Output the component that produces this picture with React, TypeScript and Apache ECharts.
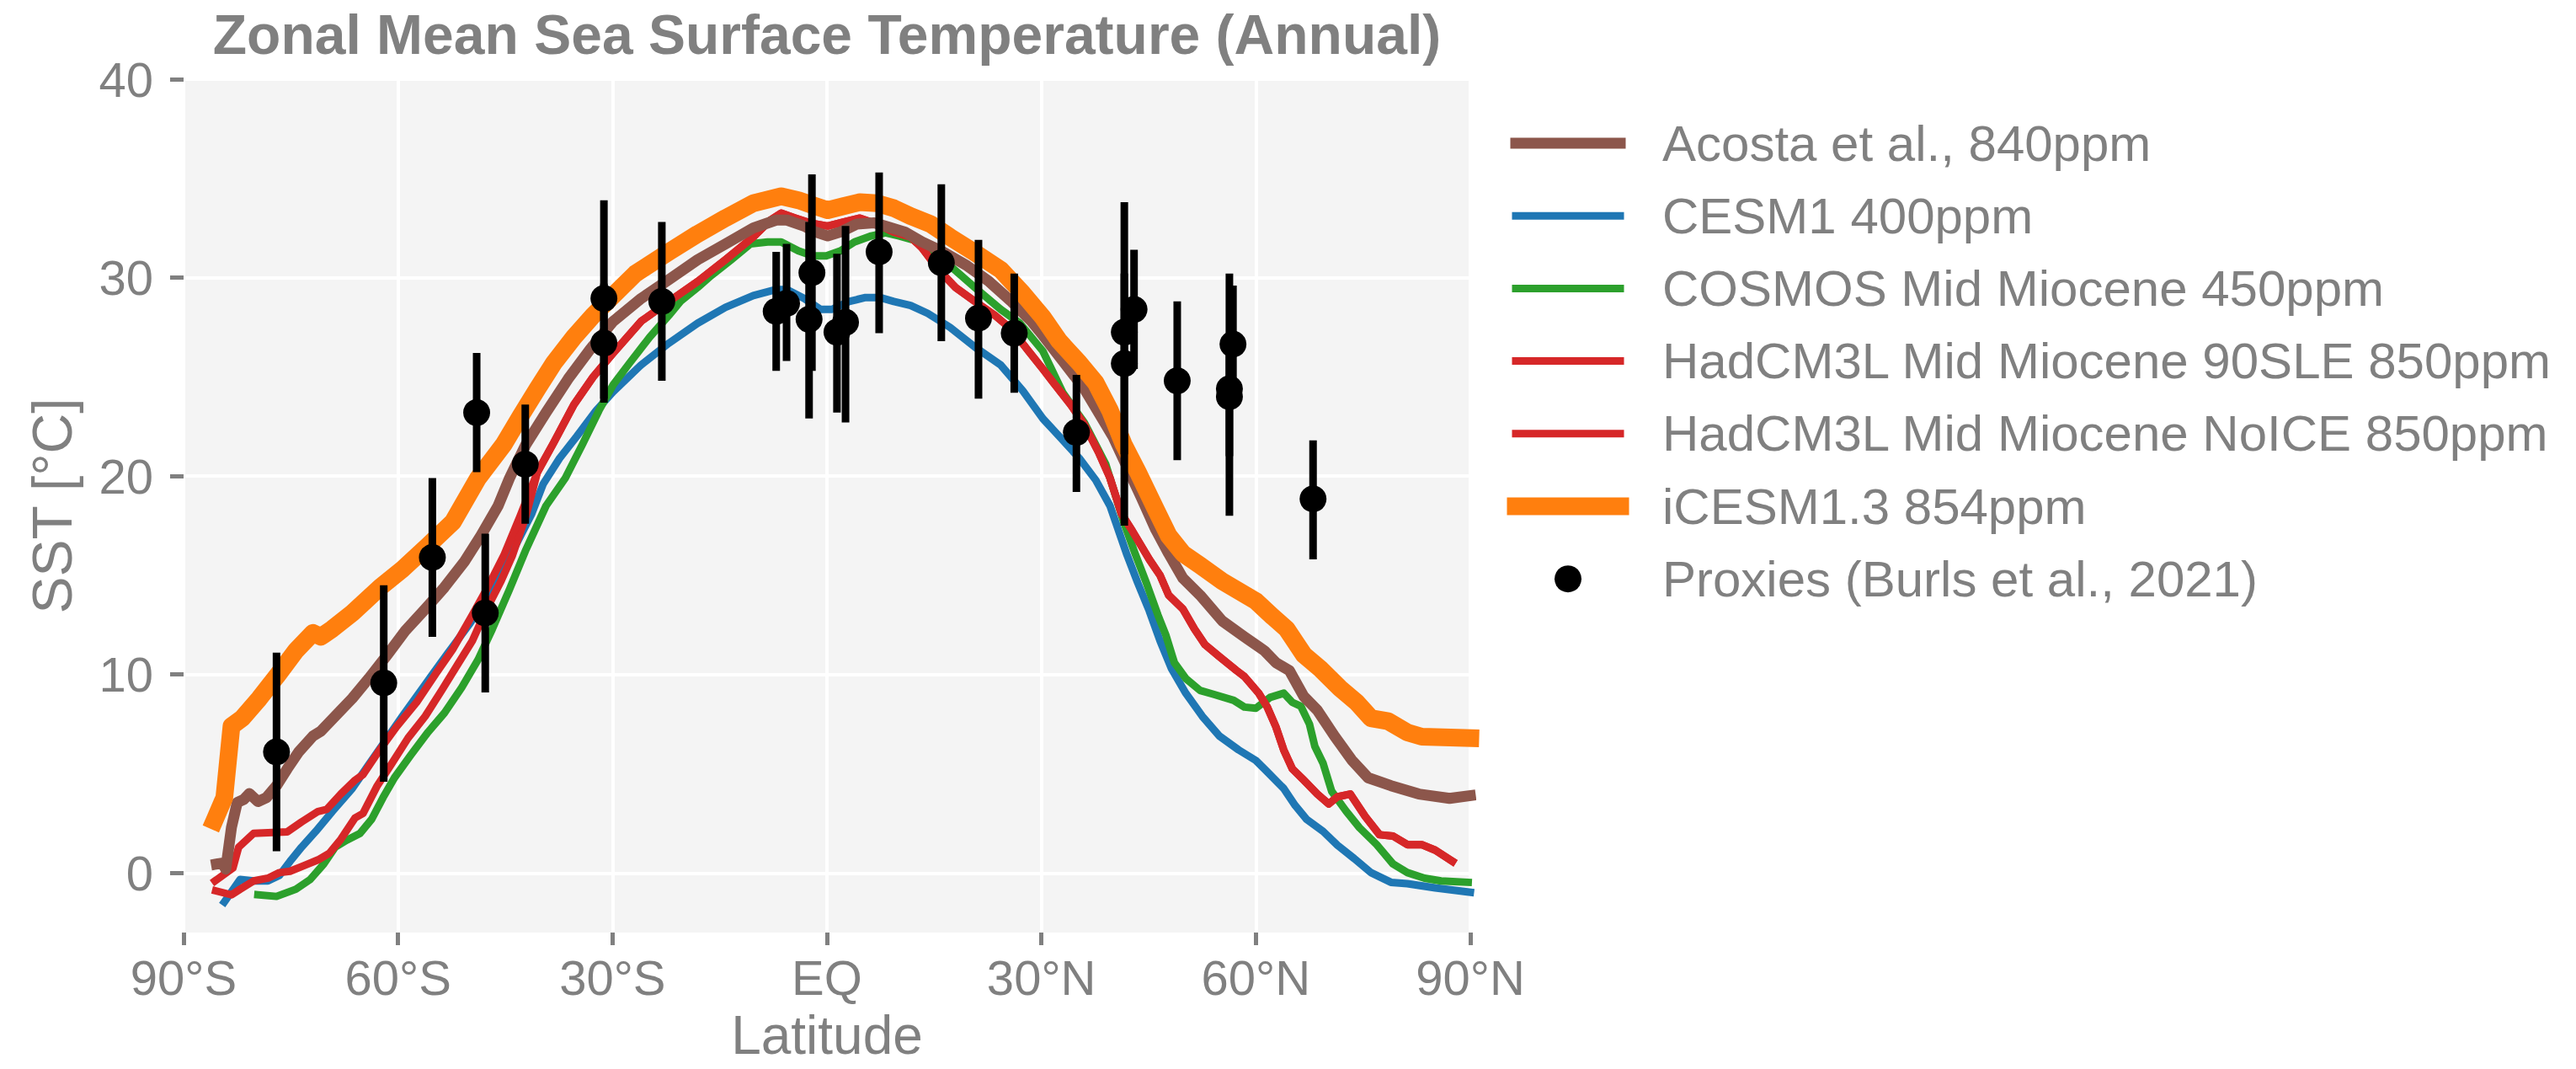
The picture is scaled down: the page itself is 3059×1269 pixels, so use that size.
import React, { useEffect, useRef } from 'react';
import * as echarts from 'echarts';

// ---------- axis ticks ----------
const xTickValues = [-90, -60, -30, 0, 30, 60, 90];
const xTickLabels = ['90°S', '60°S', '30°S', 'EQ', '30°N', '60°N', '90°N'];
const yTickValues = [0, 10, 20, 30, 40];

// ---------- series names ----------
const acostaName = 'Acosta et al., 840ppm';
const cesmName = 'CESM1 400ppm';
const cosmosName = 'COSMOS Mid Miocene 450ppm';
const hadSleName = 'HadCM3L Mid Miocene 90SLE 850ppm';
const hadNoIceName = 'HadCM3L Mid Miocene NoICE 850ppm';
const icesmName = 'iCESM1.3 854ppm';
const proxyName = 'Proxies (Burls et al., 2021)';

// ---------- Acosta et al. ----------
const acostaLat = [-85.4, -84.6, -84.1, -83.3, -82.5, -81.6, -80.8, -79.6, -78.4, -77.0, -75.5, -73.9, -71.9, -70.8, -68.8, -66.4, -64.1, -61.7, -59.0, -56.2, -53.5, -50.7, -48.4, -46.0, -44.4, -42.1, -39.3, -36.2, -33.1, -29.9, -26.0, -22.1, -18.1, -14.2, -10.3, -7.1, -5.6, -3.2, -1.6, 0.1, 1.9, 4.2, 6.6, 8.6, 10.9, 13.3, 16.0, 19.6, 22.7, 25.8, 28.6, 30.2, 33.0, 36.0, 40.0, 44.0, 46.0, 47.8, 49.8, 52.2, 55.3, 58.4, 61.2, 62.8, 64.7, 66.7, 68.6, 71.0, 73.4, 75.7, 78.9, 82.8, 87.1, 90.0];
const acostaSST = [0.45, 0.5, 0.2, 2.3, 3.55, 3.7, 4.0, 3.6, 3.8, 4.4, 5.25, 6.1, 6.9, 7.15, 7.9, 8.8, 9.8, 10.9, 12.2, 13.3, 14.4, 15.7, 17.0, 18.5, 19.9, 21.6, 23.2, 24.9, 26.4, 27.8, 28.95, 29.9, 30.9, 31.7, 32.5, 32.9, 32.9, 32.6, 32.3, 32.1, 32.3, 32.7, 32.76, 32.55, 32.3, 31.8, 31.35, 30.6, 29.8, 28.8, 27.8, 27.1, 25.8, 24.4, 22.0, 18.9, 17.3, 16.1, 14.85, 14.0, 12.7, 11.9, 11.2, 10.6, 10.2, 8.9, 8.2, 6.9, 5.7, 4.8, 4.4, 3.98, 3.76, 3.9];

// ---------- CESM1 ----------
const cesmLat = [-84.3, -82.1, -80.2, -78.2, -76.6, -75.1, -73.5, -71.5, -69.2, -66.4, -64.5, -62.1, -59.4, -56.2, -53.1, -49.9, -46.8, -43.7, -41.3, -39.7, -37.4, -35.0, -32.3, -29.9, -26.0, -22.1, -18.1, -14.2, -10.3, -7.1, -5.6, -3.2, -0.9, 0.7, 3.1, 5.4, 7.4, 9.35, 11.7, 14.1, 17.2, 20.7, 24.3, 27.4, 30.2, 32.5, 35.3, 37.6, 39.6, 40.8, 41.9, 43.5, 45.1, 46.6, 48.2, 50.2, 52.5, 54.9, 57.6, 60.0, 61.6, 63.9, 65.5, 67.1, 69.4, 71.4, 73.75, 76.1, 78.9, 81.2, 85.1, 90.0];
const cesmSST = [-1.46, -0.33, -0.4, -0.4, -0.12, 0.59, 1.3, 2.1, 3.1, 4.26, 5.25, 6.5, 7.9, 9.5, 11.04, 12.6, 14.3, 16.4, 18.1, 19.6, 20.9, 22.0, 23.3, 24.25, 25.6, 26.7, 27.7, 28.5, 29.1, 29.4, 29.4, 28.95, 28.4, 28.4, 28.8, 29.0, 29.0, 28.8, 28.6, 28.2, 27.5, 26.5, 25.6, 24.3, 22.9, 22.0, 20.9, 19.8, 18.5, 17.25, 16.1, 14.6, 13.2, 11.7, 10.3, 9.06, 7.9, 6.9, 6.2, 5.67, 5.1, 4.26, 3.4, 2.7, 2.1, 1.4, 0.73, 0.02, -0.47, -0.54, -0.75, -0.97];

// ---------- COSMOS ----------
const cosmosLat = [-79.6, -77.0, -74.3, -72.3, -70.4, -68.8, -67.2, -65.3, -63.7, -62.1, -60.5, -58.2, -55.8, -53.5, -51.1, -48.8, -46.8, -44.4, -42.1, -39.3, -36.6, -34.2, -31.9, -29.9, -27.6, -24.8, -22.1, -20.5, -18.1, -16.2, -13.4, -10.7, -8.3, -6.4, -4.0, -2.0, -0.1, 1.9, 3.85, 6.2, 8.2, 10.1, 12.1, 14.5, 17.2, 20.7, 24.3, 27.0, 30.2, 33.0, 36.0, 39.0, 41.5, 43.1, 44.7, 46.3, 47.4, 48.6, 50.2, 52.2, 54.1, 56.9, 58.4, 60.0, 62.0, 63.9, 65.1, 66.3, 67.5, 68.25, 69.4, 70.6, 72.6, 74.5, 76.9, 79.2, 81.2, 83.6, 85.9, 89.7];
const cosmosSST = [-1.1, -1.18, -0.82, -0.33, 0.45, 1.3, 1.65, 2.0, 2.7, 3.8, 4.8, 5.95, 7.1, 8.07, 9.34, 10.75, 12.3, 14.3, 16.3, 18.5, 19.9, 21.6, 23.3, 24.6, 25.7, 27.0, 28.1, 28.8, 29.5, 30.1, 30.9, 31.7, 31.8, 31.8, 31.35, 31.1, 31.1, 31.35, 31.8, 32.1, 32.26, 32.1, 31.9, 31.2, 30.6, 29.5, 28.4, 27.7, 26.3, 24.2, 22.7, 20.6, 17.7, 16.1, 14.6, 13.0, 12.0, 10.6, 9.8, 9.2, 9.0, 8.7, 8.36, 8.3, 8.85, 9.06, 8.6, 8.4, 7.5, 6.38, 5.53, 4.12, 3.13, 2.28, 1.43, 0.45, 0.02, -0.26, -0.4, -0.47];

// ---------- HadCM3L (two runs, separate in the far south, shared elsewhere) ----------
const hadSleSouthLat = [-85.5, -83.3, -82.1, -80.2, -78.2, -76.6, -75.1, -73.1, -71.2, -69.6, -68.0, -66.0, -64.9, -62.9, -60.9, -58.6, -56.2, -53.9, -51.5, -49.6, -47.6, -45.6, -44.0, -42.1];
const hadSleSouthSST = [-0.9, -1.1, -0.82, -0.4, -0.26, 0.02, 0.09, 0.38, 0.66, 1.0, 1.7, 2.78, 3.0, 4.4, 5.5, 6.8, 7.9, 9.2, 10.6, 11.7, 13.3, 14.7, 16.0, 18.0];
const hadNoIceSouthLat = [-85.6, -83.1, -82.3, -80.2, -78.2, -75.5, -73.5, -71.2, -70.0, -68.0, -66.0, -64.9, -62.5, -60.2, -57.4, -54.7, -52.3, -49.6, -47.6, -45.2, -42.9];
const hadNoIceSouthSST = [-0.4, 0.25, 1.3, 2.0, 2.03, 2.07, 2.57, 3.1, 3.2, 3.98, 4.68, 4.96, 6.24, 7.37, 8.6, 10.05, 11.3, 13.0, 14.3, 16.0, 18.0];
const hadSharedLat = [-40.5, -38.2, -35.4, -32.7, -29.9, -26.0, -22.1, -18.1, -14.2, -10.3, -7.9, -6.4, -4.4, -2.4, 0.1, 2.3, 4.6, 7.0, 9.35, 11.7, 13.3, 15.6, 18.0, 20.7, 23.5, 25.8, 28.2, 30.2, 31.7, 34.1, 36.0, 38.0, 39.6, 41.2, 42.7, 45.1, 46.6, 47.8, 49.8, 51.4, 52.9, 54.9, 57.3, 58.4, 60.4, 61.6, 62.8, 63.9, 65.1, 66.7, 68.6, 70.2, 71.4, 73.2, 75.3, 77.3, 79.2, 81.2, 83.2, 85.1, 87.5];
const hadSharedSST = [20.2, 21.7, 23.6, 25.0, 26.2, 27.8, 28.8, 29.8, 30.9, 32.05, 32.9, 33.25, 33.0, 32.76, 32.6, 32.8, 33.0, 32.7, 32.3, 32.05, 31.5, 30.4, 29.5, 28.8, 28.1, 27.4, 26.3, 25.4, 24.7, 23.6, 22.6, 21.2, 19.9, 18.1, 17.25, 15.8, 15.0, 14.0, 13.3, 12.3, 11.5, 10.9, 10.2, 9.9, 9.06, 8.36, 7.37, 6.2, 5.25, 4.68, 3.98, 3.48, 3.84, 3.98, 2.85, 1.93, 1.86, 1.43, 1.43, 1.15, 0.59];

// ---------- iCESM1.3 ----------
const icesmLat = [-85.7, -84.3, -83.3, -81.8, -79.4, -77.0, -74.3, -71.9, -70.8, -69.2, -66.4, -64.9, -62.5, -59.4, -55.8, -52.3, -48.8, -45.2, -42.9, -40.5, -38.2, -35.4, -32.7, -29.9, -26.8, -22.1, -18.1, -14.2, -10.3, -6.4, -4.0, -1.6, 0.1, 2.3, 4.6, 7.0, 9.35, 11.7, 14.5, 17.2, 20.3, 24.3, 27.4, 30.2, 32.5, 35.3, 37.6, 39.6, 41.5, 43.5, 45.9, 47.8, 49.8, 52.2, 55.3, 60.0, 62.4, 64.3, 66.7, 69.0, 71.8, 74.1, 76.1, 78.5, 81.2, 83.2, 90.0];
const icesmSST = [2.63, 3.8, 7.4, 7.8, 8.8, 9.9, 11.2, 12.1, 11.9, 12.3, 13.1, 13.6, 14.4, 15.3, 16.5, 17.7, 19.9, 21.6, 23.0, 24.4, 25.7, 27.0, 28.1, 29.1, 30.2, 31.3, 32.2, 33.0, 33.75, 34.1, 33.9, 33.6, 33.4, 33.6, 33.8, 33.75, 33.5, 33.1, 32.7, 32.05, 31.35, 30.4, 29.2, 28.0, 26.8, 25.7, 24.7, 23.3, 21.6, 20.2, 18.4, 17.0, 16.1, 15.5, 14.7, 13.7, 12.9, 12.3, 11.0, 10.3, 9.3, 8.6, 7.8, 7.65, 7.08, 6.87, 6.8];

// ---------- Proxies (Burls et al., 2021) ----------
const proxyLat = [-77.0, -62.0, -55.2, -49.0, -47.8, -42.2, -31.2, -31.2, -23.1, -7.1, -5.65, -2.1, -2.5, 1.4, 2.6, 7.3, 16.0, 21.2, 26.2, 34.9, 41.6, 41.6, 42.96, 49.0, 56.8, 56.3, 56.3, 68.0];
const proxySST = [6.1, 9.58, 15.9, 23.2, 13.1, 20.6, 28.95, 26.7, 28.8, 28.3, 28.7, 30.25, 27.9, 27.25, 27.75, 31.3, 30.75, 27.96, 27.2, 22.2, 27.25, 25.67, 28.4, 24.8, 26.65, 24.4, 24.0, 18.85];
const proxyLow = [1.1, 4.6, 11.9, 20.2, 9.1, 17.6, 23.9, 23.7, 24.8, 25.3, 25.8, 25.3, 22.9, 23.2, 22.7, 27.2, 26.8, 23.9, 24.2, 19.2, 17.5, 21.1, 25.4, 20.8, 23.7, 18.0, 21.0, 15.8];
const proxyHigh = [11.1, 14.5, 19.9, 26.2, 17.1, 23.6, 33.9, 29.7, 32.8, 31.3, 31.7, 35.2, 32.8, 31.2, 32.6, 35.3, 34.7, 31.9, 30.2, 25.1, 33.8, 30.2, 31.4, 28.8, 29.6, 30.2, 27.0, 21.8];

const zip = (a: number[], b: number[]) => a.slice(0, Math.min(a.length, b.length)).map((v, i) => [v, b[i]]);

const FONT = "'Liberation Sans', Arial, Helvetica, sans-serif";
const GREY = '#808080';

export default function App() {
  const ref = useRef<HTMLDivElement>(null);

  useEffect(() => {
    if (!ref.current) return;
    const chart = echarts.init(ref.current, null, { renderer: 'svg' });

    const lineSeries = (name: string, data: number[][], color: string, width: number, z: number) => ({
      type: 'line',
      name,
      data,
      z,
      symbol: 'none',
      showSymbol: false,
      silent: true,
      clip: true,
      lineStyle: { color, width, cap: 'square', join: 'round' },
      itemStyle: { color },
      emphasis: { disabled: true },
    });

    const legendItems = [
      { name: acostaName, color: '#8c564b', width: 13 },
      { name: cesmName, color: '#1f77b4', width: 9 },
      { name: cosmosName, color: '#2ca02c', width: 9 },
      { name: hadSleName, color: '#d62728', width: 9 },
      { name: hadNoIceName, color: '#d62728', width: 9 },
      { name: icesmName, color: '#ff7f0e', width: 21 },
    ];
    const legendY0 = 170;
    const legendStep = 86.2;
    const legendGraphics: any[] = [];
    legendItems.forEach((it, i) => {
      const y = legendY0 + i * legendStep;
      legendGraphics.push({
        type: 'line',
        shape: { x1: 1800, y1: y, x2: 1924, y2: y },
        style: { stroke: it.color, lineWidth: it.width, lineCap: 'square' },
        silent: true,
      });
      legendGraphics.push({
        type: 'text',
        x: 1974,
        y,
        style: { text: it.name, fill: GREY, fontSize: 60, fontFamily: FONT, verticalAlign: 'middle', align: 'left' },
        silent: true,
      });
    });
    const py = legendY0 + 6 * legendStep;
    legendGraphics.push({ type: 'circle', shape: { cx: 1862, cy: py, r: 16 }, style: { fill: '#000' }, silent: true });
    legendGraphics.push({
      type: 'text',
      x: 1974,
      y: py,
      style: { text: proxyName, fill: GREY, fontSize: 60, fontFamily: FONT, verticalAlign: 'middle', align: 'left' },
      silent: true,
    });

    const option: any = {
      animation: false,
      backgroundColor: '#ffffff',
      title: {
        text: 'Zonal Mean Sea Surface Temperature (Annual)',
        left: 982,
        top: 8,
        padding: 0,
        textAlign: 'center',
        textStyle: { color: GREY, fontSize: 66, fontWeight: 'bold', fontFamily: FONT },
      },
      grid: {
        left: 218,
        top: 94,
        width: 1528,
        height: 1013,
        show: true,
        backgroundColor: '#f4f4f4',
        borderWidth: 0,
        containLabel: false,
        outerBoundsMode: 'none',
      },
      xAxis: {
        type: 'value',
        min: -90,
        max: 90,
        interval: 30,
        axisLine: { show: false, onZero: false },
        axisTick: { show: true, length: 15, lineStyle: { color: GREY, width: 5 } },
        axisLabel: {
          color: GREY,
          fontSize: 58,
          fontFamily: FONT,
          margin: 24,
          showMinLabel: true,
          showMaxLabel: true,
          formatter: (v: number) => {
            const idx = xTickValues.indexOf(Math.round(v));
            return idx >= 0 ? xTickLabels[idx] : '';
          },
        },
        splitLine: { show: true, lineStyle: { color: '#ffffff', width: 4 } },
        name: 'Latitude',
        nameLocation: 'middle',
        nameGap: 97,
        nameTextStyle: { color: GREY, fontSize: 64, fontFamily: FONT, lineHeight: 50 },
      },
      yAxis: {
        type: 'value',
        min: -3,
        max: 40,
        axisLine: { show: false, onZero: false },
        axisTick: { show: true, length: 16, customValues: yTickValues, lineStyle: { color: GREY, width: 5 } },
        axisLabel: { customValues: yTickValues, color: GREY, fontSize: 58, fontFamily: FONT, margin: 36 },
        splitLine: { show: true, lineStyle: { color: '#ffffff', width: 4 } },
        name: 'SST [°C]',
        nameLocation: 'middle',
        nameGap: 123,
        nameTextStyle: { color: GREY, fontSize: 66, fontFamily: FONT },
      },
      graphic: legendGraphics,
      series: [
        lineSeries(cesmName, zip(cesmLat, cesmSST), '#1f77b4', 9, 2),
        lineSeries(cosmosName, zip(cosmosLat, cosmosSST), '#2ca02c', 9, 3),
        lineSeries(hadSleName, zip(hadSleSouthLat.concat(hadSharedLat), hadSleSouthSST.concat(hadSharedSST)), '#d62728', 9, 4),
        lineSeries(hadNoIceName, zip(hadNoIceSouthLat.concat(hadSharedLat), hadNoIceSouthSST.concat(hadSharedSST)), '#d62728', 9, 4),
        lineSeries(acostaName, zip(acostaLat, acostaSST), '#8c564b', 13, 5),
        lineSeries(icesmName, zip(icesmLat, icesmSST), '#ff7f0e', 21, 6),
        {
          type: 'custom',
          name: 'proxy error bars',
          z: 8,
          silent: true,
          data: proxyLat.map((v, i) => [v, proxyLow[i], proxyHigh[i]]),
          encode: { x: 0, y: [1, 2] },
          renderItem: (params: any, api: any) => {
            const lo = api.coord([api.value(0), api.value(1)]);
            const hi = api.coord([api.value(0), api.value(2)]);
            return {
              type: 'line',
              shape: { x1: lo[0], y1: lo[1], x2: hi[0], y2: hi[1] },
              style: { stroke: '#000', lineWidth: 9, lineCap: 'butt' },
            };
          },
        },
        {
          type: 'scatter',
          name: proxyName,
          z: 9,
          silent: true,
          symbol: 'circle',
          symbolSize: 32,
          data: zip(proxyLat, proxySST),
          itemStyle: { color: '#000', opacity: 1 },
          emphasis: { disabled: true },
        },
      ],
    };

    chart.setOption(option);
    return () => chart.dispose();
  }, []);

  return (
    <div
      ref={ref}
      style={{ position: 'absolute', left: 0, top: 0, width: 3059, height: 1269, background: '#fff' }}
    />
  );
}
